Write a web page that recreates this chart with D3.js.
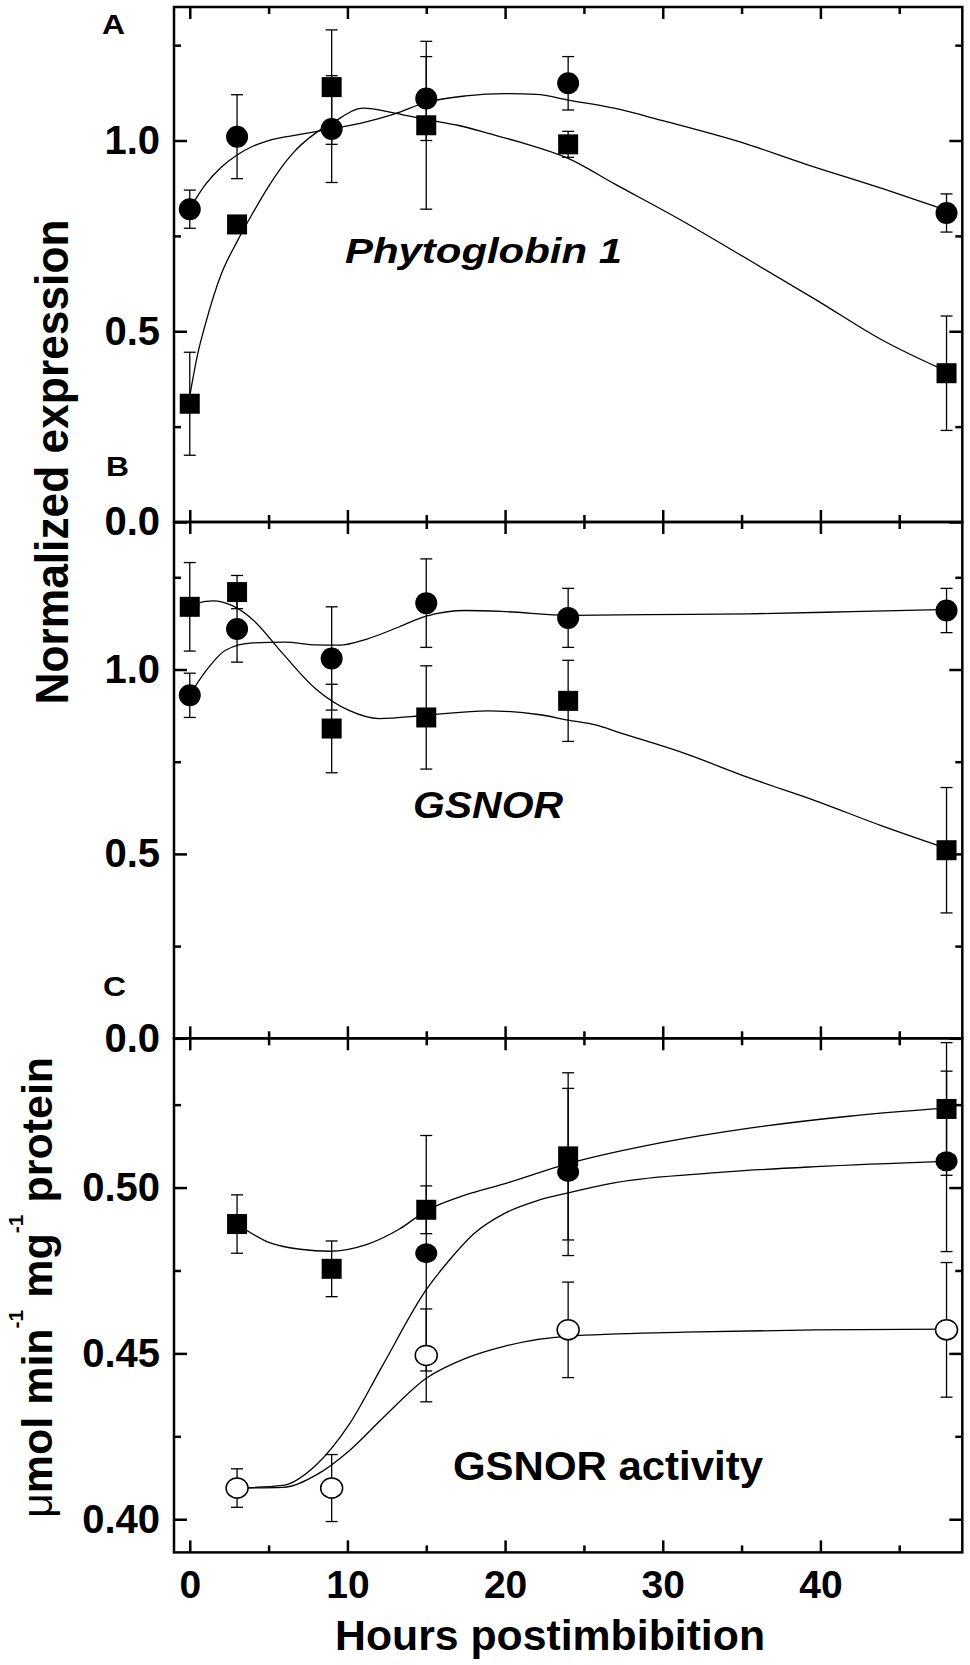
<!DOCTYPE html>
<html>
<head>
<meta charset="utf-8">
<script src="https://cdn.jsdelivr.net/npm/d3@7"></script>
<style>
  body { margin: 0; background: #fff; }
  svg { display: block; font-family: Arial, "Liberation Sans", sans-serif; }
</style>
</head>
<body>
<div id="chart"></div>
<script>
// sampling times (hours postimbibition)
const hours = [0, 3, 9, 15, 24, 48];
const activityHours = [3, 9, 15, 24, 48];
const activityFilledHours = [15, 24, 48];

// x axis ticks
const xTicks = [0, 10, 20, 30, 40];
const xMinorTicks = [5, 15, 25, 35, 45];

// A - Phytoglobin 1 expression
const pgbCircle = [0.82, 1.01, 1.03, 1.11, 1.15, 0.81];
const pgbCircleErr = [0.05, 0.11, 0.14, 0.11, 0.07, 0.05];
const pgbSquare = [0.31, 0.78, 1.14, 1.04, 0.99, 0.39];
const pgbSquareErr = [0.135, 0.008, 0.15, 0.22, 0.034, 0.15];

// B - GSNOR expression
const gsnorCircle = [0.93, 1.11, 1.03, 1.18, 1.14, 1.16];
const gsnorCircleErr = [0.06, 0.09, 0.14, 0.12, 0.08, 0.06];
const gsnorSquare = [1.17, 1.21, 0.84, 0.87, 0.915, 0.51];
const gsnorSquareErr = [0.12, 0.045, 0.12, 0.14, 0.11, 0.17];

// C - GSNOR activity
const actSquare = [0.489, 0.4755, 0.4933, 0.5094, 0.5237];
const actSquareErr = [0.0088, 0.0084, 0.0072, 0.0252, 0.020];
const actFilled = [0.4802, 0.5047, 0.5079];
const actFilledErr = [0.0355, 0.0252, 0.0272];
const actOpen = [0.4094, 0.4094, 0.4494, 0.4571, 0.4571];
const actOpenErr = [0.0058, 0.0101, 0.014, 0.0144, 0.0203];

// fitted curves: [hour, value]
const pgbCircleFit = [[0, 0.82], [0.5, 0.855], [1, 0.885], [2, 0.93], [3, 0.962], [4, 0.985], [5, 1.0],
  [7, 1.016], [9, 1.031], [11, 1.047], [13, 1.07], [15, 1.1], [17.5, 1.117], [20, 1.123], [22, 1.121],
  [24, 1.106], [27, 1.084], [30, 1.052], [35, 0.995], [39, 0.939], [44, 0.873], [48, 0.817]];
const pgbSquareFit = [[0, 0.33], [0.5, 0.44], [1, 0.52], [2, 0.65], [3, 0.735], [4, 0.81], [5, 0.88],
  [6.5, 0.965], [8, 1.02], [9, 1.045], [11, 1.085], [13, 1.072], [15, 1.055], [17, 1.04], [19, 1.018],
  [21, 0.995], [24, 0.953], [27, 0.885], [31, 0.795], [35.5, 0.686], [39.7, 0.583], [44, 0.475], [48, 0.395]];
const gsnorCircleFit = [[0, 0.931], [1, 0.995], [2.3, 1.053], [4, 1.072], [6, 1.074], [8, 1.067],
  [9.5, 1.066], [11.2, 1.082], [13.3, 1.116], [15, 1.145], [17.5, 1.16], [20, 1.157], [24, 1.147],
  [29, 1.149], [35.5, 1.151], [42, 1.157], [48, 1.163]];
const gsnorSquareFit = [[0, 1.17], [1, 1.185], [1.5, 1.186], [2.7, 1.173], [4, 1.135], [5.9, 1.043],
  [8, 0.947], [10.1, 0.889], [12, 0.867], [15, 0.876], [18.9, 0.888], [22.1, 0.878], [24, 0.863],
  [25.8, 0.849], [27.1, 0.831], [31.3, 0.774], [35.5, 0.706], [39.7, 0.644], [43.9, 0.576], [48, 0.515]];
const actSquareFit = [[3, 0.489], [4.85, 0.4838], [7, 0.4814], [8.9, 0.4808], [11.2, 0.4828],
  [13.3, 0.4875], [15, 0.493], [17.5, 0.4978], [20, 0.5012], [24, 0.5072], [30, 0.5136],
  [35.5, 0.5179], [41.8, 0.5215], [48, 0.524]];
const actFilledFit = [[3, 0.4094], [5.9, 0.4102], [8, 0.4163], [10.1, 0.4285], [12.2, 0.4461],
  [15, 0.4692], [16.5, 0.4783], [18, 0.486], [20, 0.4923], [22, 0.496], [24, 0.4984], [27, 0.5015],
  [33.4, 0.5045], [39.7, 0.5063], [48, 0.5079]];
const actOpenFit = [[3, 0.4094], [5.9, 0.4096], [8, 0.4133], [10.1, 0.4206], [12.2, 0.4303],
  [15, 0.4425], [17.5, 0.4485], [20, 0.4522], [24, 0.4552], [31.3, 0.4564], [39.7, 0.4571], [48, 0.4573]];

// panel layout
const panels = [
  {
    letter: 'A', top: 7, bottom: 522, domain: [0, 1.35],
    major: [0, 0.5, 1.0], minor: [0.25, 0.75, 1.25], fmt: '.1f',
    letterPos: [102, 34],
    series: [
      { x: hours, y: pgbCircle, err: pgbCircleErr, fit: pgbCircleFit, shape: 'circle' },
      { x: hours, y: pgbSquare, err: pgbSquareErr, fit: pgbSquareFit, shape: 'square' }
    ]
  },
  {
    letter: 'B', top: 522, bottom: 1038.3, domain: [0, 1.4],
    major: [0, 0.5, 1.0], minor: [0.25, 0.75, 1.25], fmt: '.1f',
    letterPos: [106, 476],
    series: [
      { x: hours, y: gsnorCircle, err: gsnorCircleErr, fit: gsnorCircleFit, shape: 'circle' },
      { x: hours, y: gsnorSquare, err: gsnorSquareErr, fit: gsnorSquareFit, shape: 'square' }
    ]
  },
  {
    letter: 'C', top: 1038.3, bottom: 1552.4, domain: [0.39, 0.545],
    major: [0.40, 0.45, 0.50], minor: [0.425, 0.475, 0.525], fmt: '.2f',
    letterPos: [103, 996], ellipse: true, xLabels: true,
    series: [
      { x: activityHours, y: actSquare, err: actSquareErr, fit: actSquareFit, shape: 'square' },
      { x: activityFilledHours, y: actFilled, err: actFilledErr, fit: actFilledFit, shape: 'circle' },
      { x: activityHours, y: actOpen, err: actOpenErr, fit: actOpenFit, shape: 'open' }
    ]
  }
];

const svg = d3.select('#chart')
  .append('svg')
  .attr('width', 970)
  .attr('height', 1665);

const x = d3.scaleLinear().domain([-1, 49]).range([174, 962.3]);

function styleAxis(sel, fontSize) {
  sel.select('.domain').remove();
  sel.attr('font-family', null).attr('font-size', fontSize).attr('font-weight', 'bold');
  sel.selectAll('.tick line').attr('stroke', '#000').attr('stroke-width', 2.5);
  sel.selectAll('.tick text').attr('fill', '#000');
}

panels.forEach(p => {
  const y = d3.scaleLinear().domain(p.domain).range([p.bottom, p.top]);
  const g = svg.append('g').attr('class', 'panel-' + p.letter);

  const line = d3.line()
    .x(d => x(d[0]))
    .y(d => y(d[1]))
    .curve(d3.curveMonotoneX);

  // fitted curves
  p.series.forEach(s => {
    g.append('path')
      .datum(s.fit)
      .attr('d', line)
      .attr('fill', 'none')
      .attr('stroke', '#000')
      .attr('stroke-width', 1.3);
  });

  // error bars
  p.series.forEach(s => {
    const pts = s.x.map((h, i) => ({ h: h, v: s.y[i], e: s.err[i] }));
    const eb = g.append('g').attr('stroke', '#000').attr('stroke-width', 1.3);
    eb.selectAll('.bar')
      .data(pts)
      .enter()
      .append('line')
      .attr('x1', d => x(d.h))
      .attr('x2', d => x(d.h))
      .attr('y1', d => y(d.v + d.e))
      .attr('y2', d => y(d.v - d.e));
    [1, -1].forEach(sign => {
      eb.selectAll('.cap' + sign)
        .data(pts)
        .enter()
        .append('line')
        .attr('x1', d => x(d.h) - 6)
        .attr('x2', d => x(d.h) + 6)
        .attr('y1', d => y(d.v + sign * d.e))
        .attr('y2', d => y(d.v + sign * d.e));
    });
  });

  // markers
  p.series.forEach(s => {
    const pts = s.x.map((h, i) => ({ h: h, v: s.y[i] }));
    if (s.shape === 'square') {
      g.selectAll(null)
        .data(pts)
        .enter()
        .append('rect')
        .attr('x', d => x(d.h) - 10)
        .attr('y', d => y(d.v) - 10)
        .attr('width', 20)
        .attr('height', 20)
        .attr('fill', '#000');
    } else {
      g.selectAll(null)
        .data(pts)
        .enter()
        .append('ellipse')
        .attr('cx', d => x(d.h))
        .attr('cy', d => y(d.v))
        .attr('rx', 11)
        .attr('ry', p.ellipse ? 10 : 11)
        .attr('fill', s.shape === 'open' ? '#fff' : '#000')
        .attr('stroke', '#000')
        .attr('stroke-width', s.shape === 'open' ? 1.5 : 0);
    }
  });

  // frame
  g.append('rect')
    .attr('x', x.range()[0])
    .attr('y', p.top)
    .attr('width', x.range()[1] - x.range()[0])
    .attr('height', p.bottom - p.top)
    .attr('fill', 'none')
    .attr('stroke', '#000')
    .attr('stroke-width', 2.5);

  // y axes (left labelled, right ticks only)
  g.append('g')
    .attr('transform', `translate(${x.range()[0]},0)`)
    .call(d3.axisLeft(y).tickValues(p.major).tickSize(-13).tickPadding(14).tickFormat(d3.format(p.fmt)))
    .call(sel => styleAxis(sel, 40));
  g.append('g')
    .attr('transform', `translate(${x.range()[0]},0)`)
    .call(d3.axisLeft(y).tickValues(p.minor).tickSize(-7).tickFormat(''))
    .call(sel => styleAxis(sel, 40));
  g.append('g')
    .attr('transform', `translate(${x.range()[1]},0)`)
    .call(d3.axisRight(y).tickValues(p.major).tickSize(-13).tickFormat(''))
    .call(sel => styleAxis(sel, 40));
  g.append('g')
    .attr('transform', `translate(${x.range()[1]},0)`)
    .call(d3.axisRight(y).tickValues(p.minor).tickSize(-7).tickFormat(''))
    .call(sel => styleAxis(sel, 40));

  // x axes (ticks pointing into the panel)
  g.append('g')
    .attr('transform', `translate(0,${p.top})`)
    .call(d3.axisTop(x).tickValues(xTicks).tickSize(-12).tickFormat(''))
    .call(sel => styleAxis(sel, 38));
  g.append('g')
    .attr('transform', `translate(0,${p.top})`)
    .call(d3.axisTop(x).tickValues(xMinorTicks).tickSize(-7).tickFormat(''))
    .call(sel => styleAxis(sel, 38));
  g.append('g')
    .attr('transform', `translate(0,${p.bottom})`)
    .call(d3.axisBottom(x).tickValues(xTicks).tickSize(-12).tickPadding(18)
      .tickFormat(p.xLabels ? d3.format('d') : ''))
    .call(sel => styleAxis(sel, 39));
  g.append('g')
    .attr('transform', `translate(0,${p.bottom})`)
    .call(d3.axisBottom(x).tickValues(xMinorTicks).tickSize(-7).tickFormat(''))
    .call(sel => styleAxis(sel, 38));

  // panel letter
  svg.append('text')
    .attr('x', p.letterPos[0])
    .attr('y', p.letterPos[1])
    .attr('font-size', 27)
    .attr('font-weight', 'bold')
    .attr('textLength', 23)
    .attr('lengthAdjust', 'spacingAndGlyphs')
    .text(p.letter);
});

// in-plot labels
svg.append('text')
  .attr('x', 345).attr('y', 263)
  .attr('font-size', 35).attr('font-weight', 'bold').attr('font-style', 'italic')
  .attr('textLength', 277).attr('lengthAdjust', 'spacingAndGlyphs')
  .text('Phytoglobin 1');

svg.append('text')
  .attr('x', 413).attr('y', 818)
  .attr('font-size', 36).attr('font-weight', 'bold').attr('font-style', 'italic')
  .attr('textLength', 150).attr('lengthAdjust', 'spacingAndGlyphs')
  .text('GSNOR');

svg.append('text')
  .attr('x', 453).attr('y', 1480)
  .attr('font-size', 40).attr('font-weight', 'bold')
  .attr('textLength', 310).attr('lengthAdjust', 'spacingAndGlyphs')
  .text('GSNOR activity');

// axis titles
svg.append('text')
  .attr('transform', 'translate(68,462) rotate(-90)')
  .attr('text-anchor', 'middle')
  .attr('font-size', 46).attr('font-weight', 'bold')
  .attr('textLength', 485).attr('lengthAdjust', 'spacingAndGlyphs')
  .text('Normalized expression');

const cLabel = svg.append('text')
  .attr('transform', 'translate(52,1518) rotate(-90)')
  .attr('font-size', 43).attr('font-weight', 'bold');
cLabel.append('tspan').attr('font-weight', 'normal').text('\u03bc');
cLabel.append('tspan').text('mol min');
cLabel.append('tspan').attr('font-size', 21).attr('dy', -29).text('-1');
cLabel.append('tspan').attr('dy', 29).text(' mg');
cLabel.append('tspan').attr('font-size', 21).attr('dy', -29).text('-1');
cLabel.append('tspan').attr('dy', 29).text(' protein');

svg.append('text')
  .attr('x', 335).attr('y', 1650)
  .attr('font-size', 42).attr('font-weight', 'bold')
  .attr('textLength', 430).attr('lengthAdjust', 'spacingAndGlyphs')
  .text('Hours postimbibition');
</script>
</body>
</html>
